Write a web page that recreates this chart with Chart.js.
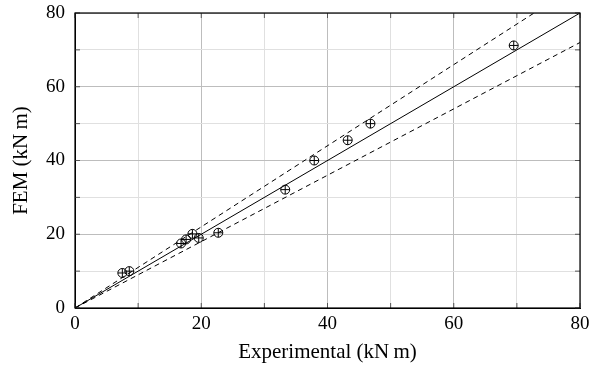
<!DOCTYPE html>
<html>
<head>
<meta charset="utf-8">
<script src="https://cdn.jsdelivr.net/npm/chart.js@4"></script>
<style>
  body { margin: 0; background: #fff; }
  canvas { display: block; }
</style>
</head>
<body>
<canvas id="chart" width="591" height="368"></canvas>
<script>
// measured moments
const experimental = [7.5, 8.6, 16.8, 17.6, 18.6, 19.6, 22.7, 33.3, 37.9, 43.2, 46.8, 69.5];
const fem = [9.5, 10.0, 17.5, 18.6, 20.1, 19.0, 20.4, 32.1, 40.0, 45.5, 50.0, 71.2];

// reference lines y = k * x
const lineX = [0, 80];
const ratioExact = 1.0;
const ratioUpper = 1.1;
const ratioLower = 0.9;

const tickValues = [0, 20, 40, 60, 80];
const gridValues = [0, 10, 20, 30, 40, 50, 60, 70, 80];

const FONT = "'Liberation Serif', 'DejaVu Serif', serif";

const refLine = ratio => lineX.map(x => ({ x, y: ratio * x }));
const points = experimental.map((x, i) => ({ x, y: fem[i] }));

// box round the plot, with short inner ticks like pgfplots
const frame = {
  id: 'frame',
  afterDraw(chart) {
    const { ctx, chartArea: a, scales } = chart;
    ctx.save();
    ctx.strokeStyle = '#555';
    ctx.lineWidth = 1;
    gridValues.forEach(v => {
      const px = scales.x.getPixelForValue(v);
      const py = scales.y.getPixelForValue(v);
      ctx.beginPath();
      ctx.moveTo(px, a.bottom);
      ctx.lineTo(px, a.bottom - 5);
      ctx.moveTo(px, a.top);
      ctx.lineTo(px, a.top + 5);
      ctx.moveTo(a.left, py);
      ctx.lineTo(a.left + 5, py);
      ctx.moveTo(a.right, py);
      ctx.lineTo(a.right - 5, py);
      ctx.stroke();
    });
    ctx.strokeStyle = '#000';
    ctx.lineWidth = 1.2;
    ctx.strokeRect(a.left, a.top, a.right - a.left, a.bottom - a.top);
    ctx.restore();
  },
};

const gridColor = ctx =>
  ctx.tick && ctx.tick.value % 20 === 0 ? '#bdbdbd' : '#e0e0e0';

const setTicks = scale => {
  scale.ticks = gridValues.map(v => ({ value: v }));
};

new Chart(
  document.getElementById('chart'),
  {
    type: 'scatter',
    data: {
      datasets: [
        {
          data: refLine(ratioExact),
          showLine: true,
          borderColor: '#000',
          borderWidth: 1,
          pointRadius: 0,
        },
        {
          data: refLine(ratioUpper),
          showLine: true,
          borderColor: '#000',
          borderWidth: 1,
          borderDash: [5, 4],
          pointRadius: 0,
        },
        {
          data: refLine(ratioLower),
          showLine: true,
          borderColor: '#000',
          borderWidth: 1,
          borderDash: [5, 4],
          pointRadius: 0,
        },
        {
          data: points,
          pointStyle: 'circle',
          pointRadius: 4.5,
          borderColor: '#000',
          backgroundColor: 'rgba(255,255,255,0)',
          borderWidth: 1,
        },
        {
          data: points,
          pointStyle: 'cross',
          pointRadius: 4.5,
          borderColor: '#000',
          borderWidth: 1,
        },
      ],
    },
    options: {
      responsive: false,
      animation: false,
      layout: {
        padding: { top: 13, right: 11, bottom: 0, left: 0 },
      },
      plugins: {
        legend: { display: false },
        tooltip: { enabled: false },
      },
      scales: {
        x: {
          min: 0,
          max: 80,
          afterBuildTicks: setTicks,
          afterFit: scale => {
            scale.height = 60;
            scale.paddingLeft = 0;
            scale.paddingRight = 0;
          },
          ticks: {
            color: '#000',
            font: { family: FONT, size: 19 },
            padding: 5,
            maxRotation: 0,
            autoSkip: false,
            callback: v => (tickValues.includes(v) ? v : ''),
          },
          grid: {
            color: gridColor,
            drawTicks: false,
          },
          border: { color: '#000' },
          title: {
            display: true,
            text: 'Experimental (kN\u2009m)',
            color: '#000',
            font: { family: FONT, size: 21 },
            padding: { top: 0, bottom: 3 },
          },
        },
        y: {
          min: 0,
          max: 80,
          afterBuildTicks: setTicks,
          afterFit: scale => {
            scale.width = 75;
            scale.paddingTop = 0;
            scale.paddingBottom = 0;
          },
          ticks: {
            color: '#000',
            font: { family: FONT, size: 19 },
            padding: 10,
            autoSkip: false,
            callback: v => (tickValues.includes(v) ? v : ''),
          },
          grid: {
            color: gridColor,
            drawTicks: false,
          },
          border: { color: '#000' },
          title: {
            display: true,
            text: 'FEM (kN\u2009m)',
            color: '#000',
            font: { family: FONT, size: 21 },
            padding: { top: 9, bottom: 0 },
          },
        },
      },
    },
    plugins: [frame],
  }
);
</script>
</body>
</html>
